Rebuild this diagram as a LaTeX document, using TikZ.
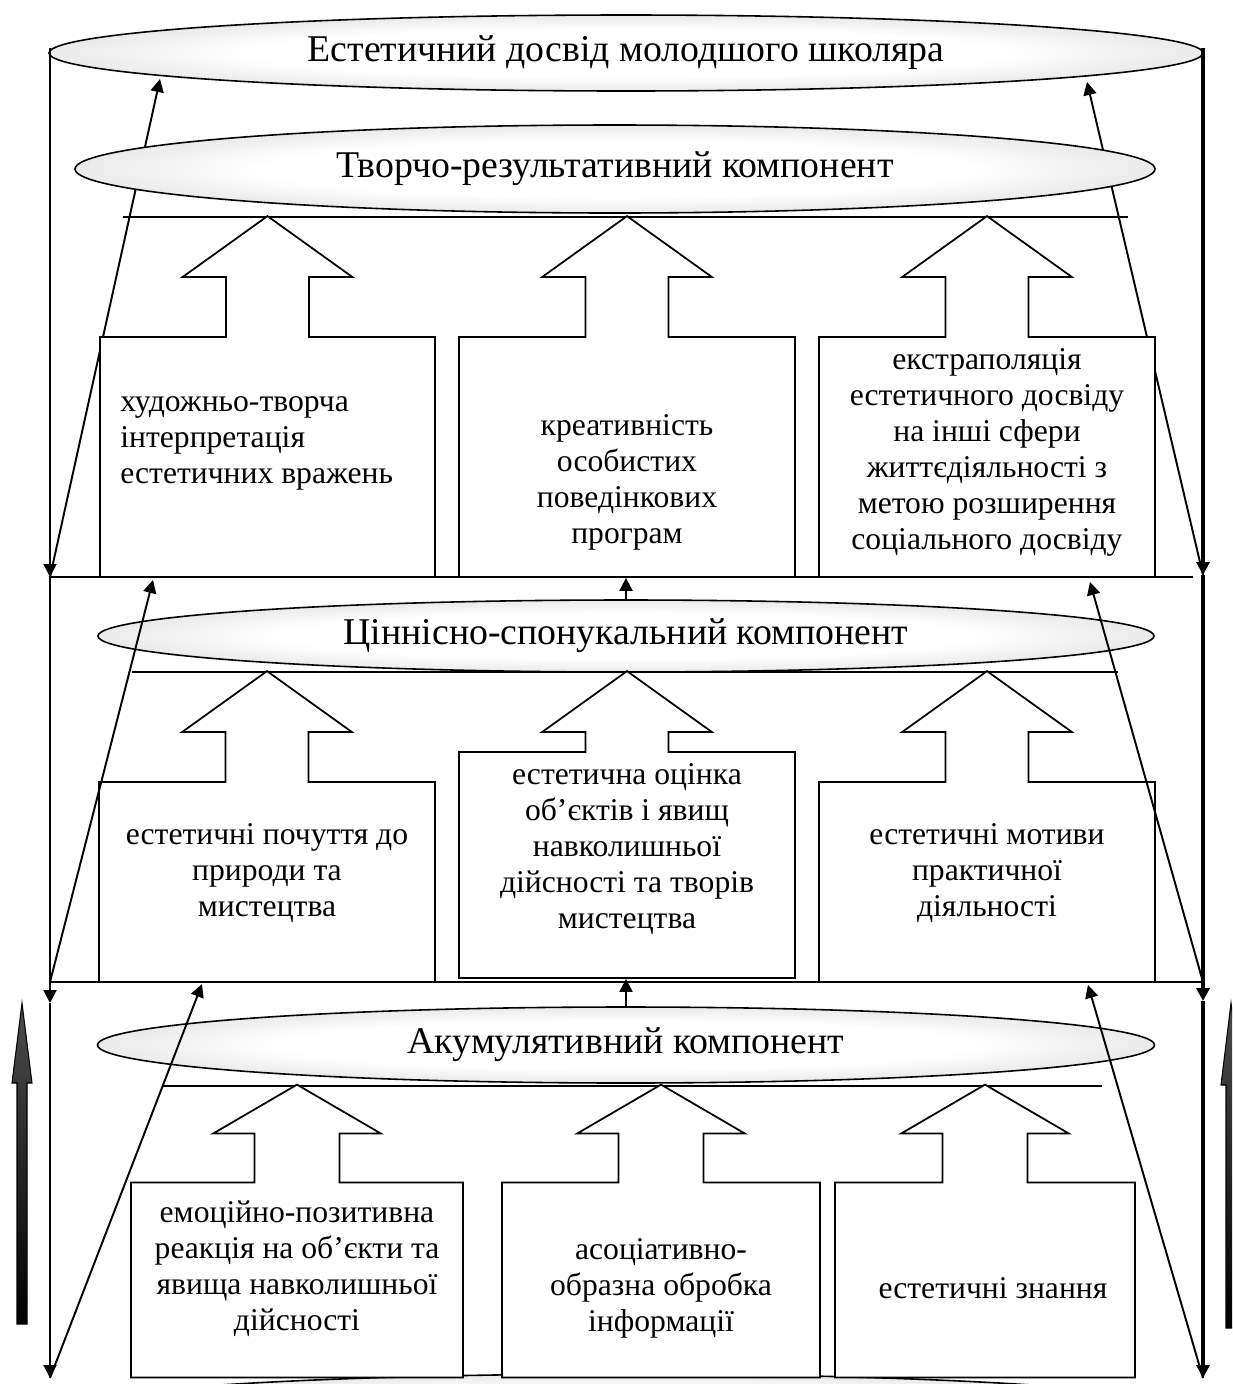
\documentclass[tikz,border=0pt]{standalone}
\usepackage{fontspec}
\setmainfont{Liberation Serif}
\usetikzlibrary{shapes.geometric,shapes.arrows,arrows.meta}

\pgfdeclareradialshading{compshade}{\pgfpoint{0bp}{0bp}}{%
  color(0bp)=(white); color(16bp)=(white); color(38bp)=(gray!40); color(50bp)=(gray!60)}

\tikzset{
  comp/.style={ellipse, draw, line width=0.9pt, shade, shading=compshade,
    inner sep=0pt, font=\fontsize{21.5}{24}\selectfont},
  blk/.style={arrow box, draw, fill=white, line width=1pt, inner sep=0pt,
    minimum width=67.2mm, minimum height=48mm,
    arrow box tip angle=108.7, arrow box shaft width=16.6mm,
    arrow box head extend=8.7mm},
  lowblk/.style={blk, minimum height=39mm, arrow box tip angle=119.5,
    arrow box shaft width=17mm, arrow box head extend=8.3mm},
  txt/.style={inner sep=0pt, align=center, font=\fontsize{18}{20.5}\selectfont},
  arr/.style={-{Triangle[length=2.6mm,width=2.6mm]}, line width=1.1pt},
  lvl/.style={line width=1.5pt},
  base/.style={line width=1pt},
  frame/.style={line width=1.4pt},
  side/.style={draw, line width=0.6pt, top color=black!70, middle color=white, bottom color=black},
}

\begin{document}
\begin{tikzpicture}[x=0.2mm, y=-0.2mm]
  \useasboundingbox (0,0) rectangle (1232,1384);
  \clip (0,0) rectangle (1232,1384);

  % Lower ellipse, cut by the page edge
  \node[comp, minimum width=230.8mm, minimum height=15.2mm] (e4) at (626,1412) {};

  % Level lines and base lines
  \draw[lvl] (50,577) -- (1193,577);
  \draw[lvl] (50,982) -- (1203,982);
  \draw[base] (123,217) -- (1128,217);
  \draw[base] (132,672) -- (1118,672);
  \draw[base] (163,1086) -- (1102,1086);

  % Corners and arrow ends
  \coordinate (ltop) at (50,48);
  \coordinate (rtop) at (1203,48);
  \coordinate (la) at (50,577);
  \coordinate (lb) at (50,982);
  \coordinate (lbt) at (50,1003);
  \coordinate (lc) at (50,1378);
  \coordinate (ra) at (1203,575);
  \coordinate (rb) at (1203,982);
  \coordinate (rbt) at (1203,1001);
  \coordinate (rc) at (1203,1378);
  \coordinate (ta1) at (160,79);
  \coordinate (ta2) at (153,580);
  \coordinate (ta3) at (202,984);
  \coordinate (tb1) at (1087,82);
  \coordinate (tb2) at (1090,582);
  \coordinate (tb3) at (1088,985);

  % Top ellipse
  \node[comp, minimum width=230.8mm, minimum height=15.2mm] (e0) at (626,53)
    {Естетичний досвід молодшого школяра};

  % Upper slanted arrows, hidden behind the next ellipse
  \draw[arr] (la) -- (ta1);
  \draw[arr] (ra) -- (tb1);

  % Components
  \node[comp, minimum width=216mm, minimum height=17.6mm] (e1) at (615,169)
    {Творчо-результативний компонент};
  \node[comp, minimum width=211.2mm, minimum height=14.4mm] (e2) at (626,636)
    {Ціннісно-спонукальний компонент};
  \node[comp, minimum width=211.4mm, minimum height=15.2mm] (e3) at (626,1045)
    {Акумулятивний компонент};

  % First level
  \node[blk, minimum width=67mm, arrow box arrows={north:24mm from border}] (b11) at (267.5,457) {};
  \node[blk, arrow box arrows={north:24mm from border}] (b12) at (627,457) {};
  \node[blk, arrow box arrows={north:24mm from border}] (b13) at (987,457) {};
  \node[txt, align=left, anchor=west] (t11) at (120,443)
    {художньо-творча\\інтерпретація\\естетичних вражень};
  \node[txt] (t12) at (627,482) {креативність\\особистих\\поведінкових\\програм};
  \node[txt] (t13) at (987,452) {екстраполяція\\естетичного досвіду\\на інші сфери\\життєдіяльності з\\метою розширення\\соціального досвіду};

  % Second level
  \node[blk, minimum height=40mm, arrow box arrows={north:22mm from border}] (b21) at (267,882) {};
  \node[blk, minimum height=45.2mm, arrow box arrows={north:16mm from border}] (b22) at (627,865) {};
  \node[blk, minimum height=40mm, arrow box arrows={north:22mm from border}] (b23) at (987,882) {};
  \node[txt] (t21) at (267,873) {естетичні почуття до\\природи та\\мистецтва};
  \node[txt] (t22) at (627,849) {естетична оцінка\\об’єктів і явищ\\навколишньої\\дійсності та творів\\мистецтва};
  \node[txt] (t23) at (987,873) {естетичні мотиви\\практичної\\діяльності};

  % Third level
  \node[lowblk, minimum width=66.4mm, arrow box arrows={north:19.4mm from border}] (b31) at (297,1280) {};
  \node[lowblk, minimum width=63.6mm, arrow box arrows={north:19.4mm from border}] (b32) at (661,1280) {};
  \node[lowblk, minimum width=60mm, arrow box arrows={north:19.4mm from border}] (b33) at (985,1280) {};
  \node[txt] (t31) at (297,1269) {емоційно-позитивна\\реакція на об’єкти та\\явища навколишньої\\дійсності};
  \node[txt] (t32) at (661,1288) {асоціативно-\\образна обробка\\інформації};
  \node[txt] (t33) at (993,1288) {естетичні знання};

  % Frame with arrows down
  \draw[frame, arr] (ltop) -- (la);
  \draw[frame, arr] (la) -- (lbt);
  \draw[frame, arr] (lbt) -- (lc);
  \draw[frame, arr, line width=2pt] (rtop) -- (ra);
  \draw[frame, arr, line width=2pt] (ra) -- (rbt);
  \draw[frame, arr, line width=2pt] (rbt) -- (rc);

  % Slanted arrows up
  \draw[arr] (lb) -- (ta2);
  \draw[arr] (lc) -- (ta3);
  \draw[arr] (rb) -- (tb2);
  \draw[arr] (rc) -- (tb3);

  % Middle arrows
  \draw[arr] (e2.north) -- (e2.north |- b12.south);
  \draw[arr] (e3.north) -- (e3.north |- b22.south);

  % Shaded arrows at the sides
  \shade[side]
    (22,1003) -- (32,1083) -- (27,1083) -- (27,1324) -- (17,1324) -- (17,1083) -- (12,1083) -- cycle;
  \shade[side]
    (1231,1003) -- (1241,1085) -- (1236,1085) -- (1236,1328) -- (1226,1328) -- (1226,1085) -- (1221,1085) -- cycle;
\end{tikzpicture}
\end{document}
